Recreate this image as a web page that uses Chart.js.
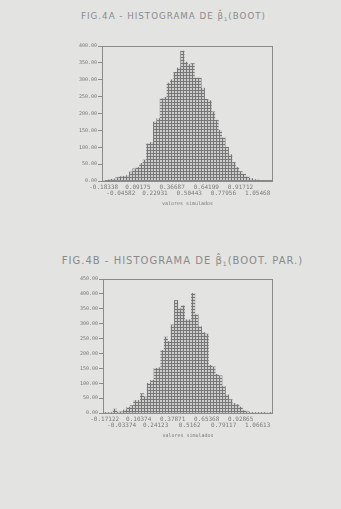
<!DOCTYPE html>
<html>
<head>
<meta charset="utf-8">
<script src="https://cdn.jsdelivr.net/npm/chart.js@4/dist/chart.umd.min.js"></script>
<style>
  body { margin: 0; background: #e3e3e1; width: 341px; height: 509px; position: relative; overflow: hidden; }
  .title { position: absolute; width: 341px; text-align: center; color: #8a8a8a;
           font-family: "DejaVu Sans", sans-serif; letter-spacing: 1px; white-space: nowrap; }
  #titleA { top: 11px; left: 3px; font-size: 8.7px; }
  #titleB { top: 255px; left: 12px; font-size: 10px; }
  canvas { position: absolute; left: 0; }
  #chartA { top: 0px; }
  #chartB { top: 240px; }
  sub { font-size: 60%; vertical-align: -2px; }
</style>
</head>
<body>
<div class="title" id="titleA">FIG.4A - HISTOGRAMA DE β&#770;<sub>1</sub>(BOOT)</div>
<div class="title" id="titleB">FIG.4B - HISTOGRAMA DE β&#770;<sub>1</sub>(BOOT. PAR.)</div>
<canvas id="chartA" width="341" height="220"></canvas>
<canvas id="chartB" width="341" height="220"></canvas>
<script>
// tick labels printed under every 5th bin
const ticksA = ['-0.18338', '-0.04582', '0.09175', '0.22931', '0.36687', '0.50443', '0.64199', '0.77956', '0.91712', '1.05468']
const ticksB = ['-0.17122', '-0.03374', '0.10374', '0.24123', '0.37871', '0.5162', '0.65368', '0.79117', '0.92865', '1.06613']

// frequencies, 50 bins each
const countsA = [0, 1, 5, 6, 10, 13, 14, 16, 27, 36,
  40, 52, 62, 110, 114, 175, 185, 244, 248, 290,
  300, 322, 335, 385, 352, 345, 348, 305, 305, 275,
  242, 238, 205, 180, 150, 128, 100, 78, 55, 40,
  28, 20, 12, 8, 4, 3, 1, 1, 2, 1]
const countsB = [1, 2, 2, 13, 3, 4, 10, 19, 25, 42,
  42, 65, 54, 100, 110, 150, 152, 210, 255, 240,
  296, 378, 350, 360, 313, 313, 402, 330, 290, 270,
  265, 160, 155, 130, 125, 89, 61, 45, 32, 28,
  20, 8, 4, 2, 2, 2, 1, 1, 0, 1]

const bins = countsA.map((c, i) => i)

function hatch() {
  const p = document.createElement('canvas')
  p.width = 3
  p.height = 3
  const c = p.getContext('2d')
  c.fillStyle = '#cdcdcb'
  c.fillRect(0, 0, 3, 3)
  c.fillStyle = '#777777'
  c.fillRect(0, 0, 3, 1)
  c.fillRect(0, 0, 1, 3)
  return c.createPattern(p, 'repeat')
}

const frame = {
  id: 'frame',
  afterDatasetsDraw(chart) {
    const a = chart.chartArea
    const ctx = chart.ctx
    ctx.save()
    ctx.strokeStyle = '#8a8a8a'
    ctx.lineWidth = 1
    ctx.strokeRect(a.left + 0.5, a.top + 0.5, a.right - a.left - 1, a.bottom - a.top)
    ctx.restore()
  }
}

function makeChart(id, counts, tickLabels, yMax, pad) {
  const ctx = document.getElementById(id)
  new Chart(ctx, {
    type: 'bar',
    data: {
      labels: bins,
      datasets: [{
        data: counts,
        backgroundColor: hatch(),
        borderWidth: 0,
        barPercentage: 1,
        categoryPercentage: 1
      }]
    },
    options: {
      responsive: false,
      animation: false,
      layout: { padding: pad },
      plugins: { legend: { display: false }, tooltip: { enabled: false } },
      scales: {
        x: {
          grid: { display: false, drawTicks: false },
          border: { display: false },
          afterFit: s => { s.height = 30 },
          ticks: {
            autoSkip: false,
            maxRotation: 0,
            padding: 3,
            color: '#7a7a7a',
            font: { family: 'DejaVu Sans Mono', size: 6, lineHeight: 1 },
            callback: (v, i) => {
              if (i % 5 != 0) return ''
              const k = i / 5
              return k % 2 == 0 ? [tickLabels[k], ''] : ['', tickLabels[k]]
            }
          },
          title: {
            display: true,
            text: 'valores simulados',
            color: '#7a7a7a',
            font: { family: 'DejaVu Sans Mono', size: 5 },
            padding: { top: 0, bottom: 4 }
          }
        },
        y: {
          min: 0,
          max: yMax,
          afterFit: s => { s.width = 40 },
          grid: { drawOnChartArea: false, drawTicks: true, tickLength: 4, color: '#8a8a8a' },
          border: { display: true, color: '#8a8a8a' },
          ticks: {
            stepSize: 50,
            padding: 1,
            color: '#7a7a7a',
            font: { family: 'DejaVu Sans Mono', size: 5 },
            callback: v => v.toFixed(2)
          }
        }
      }
    },
    plugins: [frame]
  })
}

makeChart('chartA', countsA, ticksA, 400, { left: 62, right: 68, top: 46, bottom: 9 })
makeChart('chartB', countsB, ticksB, 450, { left: 63, right: 68, top: 39, bottom: 17 })
</script>
</body>
</html>
